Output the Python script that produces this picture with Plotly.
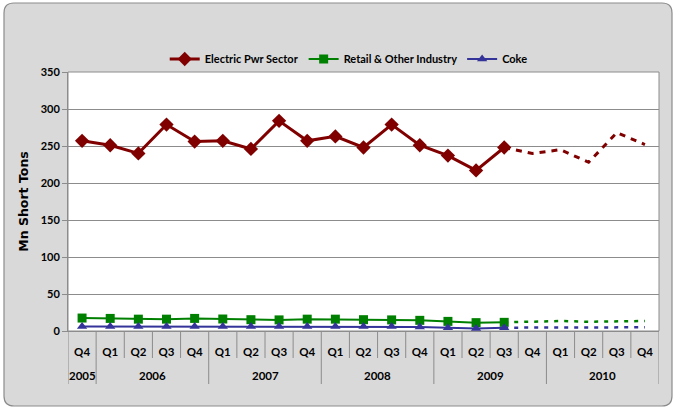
import plotly.graph_objects as go

years = ["2005"] + ["2006"] * 4 + ["2007"] * 4 + ["2008"] * 4 + ["2009"] * 4 + ["2010"] * 4
quarters = ["Q4"] + ["Q1", "Q2", "Q3", "Q4"] * 5

electric = [257, 251, 240, 279, 256, 257, 246, 284, 257, 263, 248, 279, 251, 237, 217, 248]
retail = [17.5, 17, 16, 16, 17, 16.2, 15.3, 15, 16, 16, 15.3, 15, 14.4, 13, 11.3, 11.7]
coke = [6, 6, 6, 6, 6, 6, 6, 6, 6, 6, 6, 6, 5.5, 4.5, 3.5, 4.5]

electric_fc = [248, 240, 245, 228, 268, 252]
retail_fc = [11.7, 12.5, 13.5, 12.5, 13.5, 13.5]
coke_fc = [4.5, 4.5, 5, 4.5, 5, 5]

n_all = len(quarters)
n_act = len(electric)
idx = list(range(n_all))
x_act = idx[:n_act]
x_fc = idx[n_act - 1:]

RED = "#800000"
GREEN = "#008000"
BLUE = "#333399"
GRID = "#8C8C8C"

fig = go.Figure()
fig.add_trace(go.Scatter(x=x_act, y=electric, name="Electric Pwr Sector", mode="lines+markers",
                         line=dict(color=RED, width=3), marker=dict(symbol="diamond", size=11, color=RED)))
fig.add_trace(go.Scatter(x=x_act, y=retail, name="Retail & Other Industry", mode="lines+markers",
                         line=dict(color=GREEN, width=2), marker=dict(symbol="square", size=9, color=GREEN)))
fig.add_trace(go.Scatter(x=x_act, y=coke, name="Coke", mode="lines+markers",
                         line=dict(color=BLUE, width=2), marker=dict(symbol="triangle-up", size=9, color=BLUE)))
fig.add_trace(go.Scatter(x=x_fc, y=electric_fc, mode="lines", showlegend=False, hoverinfo="skip",
                         line=dict(color=RED, width=3, dash="6px,6px")))
fig.add_trace(go.Scatter(x=x_fc, y=retail_fc, mode="lines", showlegend=False, hoverinfo="skip",
                         line=dict(color=GREEN, width=2.5, dash="4px,6px")))
fig.add_trace(go.Scatter(x=x_fc, y=coke_fc, mode="lines", showlegend=False, hoverinfo="skip",
                         line=dict(color=BLUE, width=2.5, dash="4px,6px")))

# plot area px: x 68..659, y 72..331
L, R, T, B = 68, 659, 72, 331
W, H = 677, 409
pw, ph = R - L, B - T


def px(x):
    return (x - L) / pw


def py(y):
    return (B - y) / ph


x0, x1, y0, y1 = px(4), px(672), py(406), py(3)
rx, ry = 10 / pw, 10 / ph
path = (f"M {x0+rx},{y0} L {x1-rx},{y0} Q {x1},{y0} {x1},{y0+ry} L {x1},{y1-ry} "
        f"Q {x1},{y1} {x1-rx},{y1} L {x0+rx},{y1} Q {x0},{y1} {x0},{y1-ry} "
        f"L {x0},{y0+ry} Q {x0},{y0} {x0+rx},{y0} Z")

shapes = [
    dict(type="path", xref="paper", yref="paper", path=path, fillcolor="#D9D9D9",
         line=dict(color="#8C8C8C", width=1.2), layer="below"),
    dict(type="rect", xref="paper", yref="paper", x0=0, x1=1, y0=0, y1=1,
         fillcolor="white", line=dict(color=GRID, width=1), layer="below"),
]
# category dividers: short for quarters, long at year boundaries
for i in range(n_all + 1):
    is_year_edge = i == 0 or i == n_all or years[i] != years[i - 1]
    bottom = py(384) if is_year_edge else py(358)
    shapes.append(dict(type="line", xref="x", yref="paper", x0=i - 0.5, x1=i - 0.5, y0=0, y1=bottom,
                       line=dict(color=GRID, width=1)))

annotations = []
groups = []
for i, yv in enumerate(years):
    if groups and groups[-1][0] == yv:
        groups[-1][1].append(i)
    else:
        groups.append((yv, [i]))
for yv, members in groups:
    annotations.append(dict(x=sum(members) / len(members), y=py(375), xref="x", yref="paper",
                            text=yv, showarrow=False, yanchor="middle",
                            font=dict(size=11.5, family="Lato", weight="bold", color="black")))

fig.update_layout(
    width=W, height=H,
    margin=dict(l=L, r=W - R, t=T, b=H - B, pad=0),
    paper_bgcolor="white",
    plot_bgcolor="white",
    font=dict(family="Lato, Open Sans, sans-serif", size=11, color="black"),
    showlegend=True,
    legend=dict(orientation="h", x=0.475, xanchor="center", y=py(59), yanchor="middle",
                font=dict(size=11, family="Lato", weight="bold"), bgcolor="rgba(0,0,0,0)",
                itemwidth=30, tracegroupgap=0),
    shapes=shapes,
    annotations=annotations,
    yaxis=dict(range=[0, 350], dtick=50, showgrid=True, gridcolor=GRID, gridwidth=1,
               ticks="outside", ticklen=5, tickcolor=GRID, showline=True, linecolor=GRID,
               tickfont=dict(size=11, family="Lato", weight="bold"), zeroline=False,
               title=dict(text="Mn Short Tons", font=dict(size=12.5, family="DejaVu Sans", weight="bold"),
                          standoff=9)),
    xaxis=dict(range=[-0.5, n_all - 0.5], tickvals=idx, ticktext=quarters, showgrid=False,
               ticks="", ticklabelstandoff=10, zeroline=False,
               showline=True, linecolor=GRID,
               tickfont=dict(size=11.5, family="Lato", weight="bold")),
)

fig.write_html("out.html", config={"displayModeBar": False},
               post_script="document.body.style.margin='0';document.body.style.overflow='hidden';")
